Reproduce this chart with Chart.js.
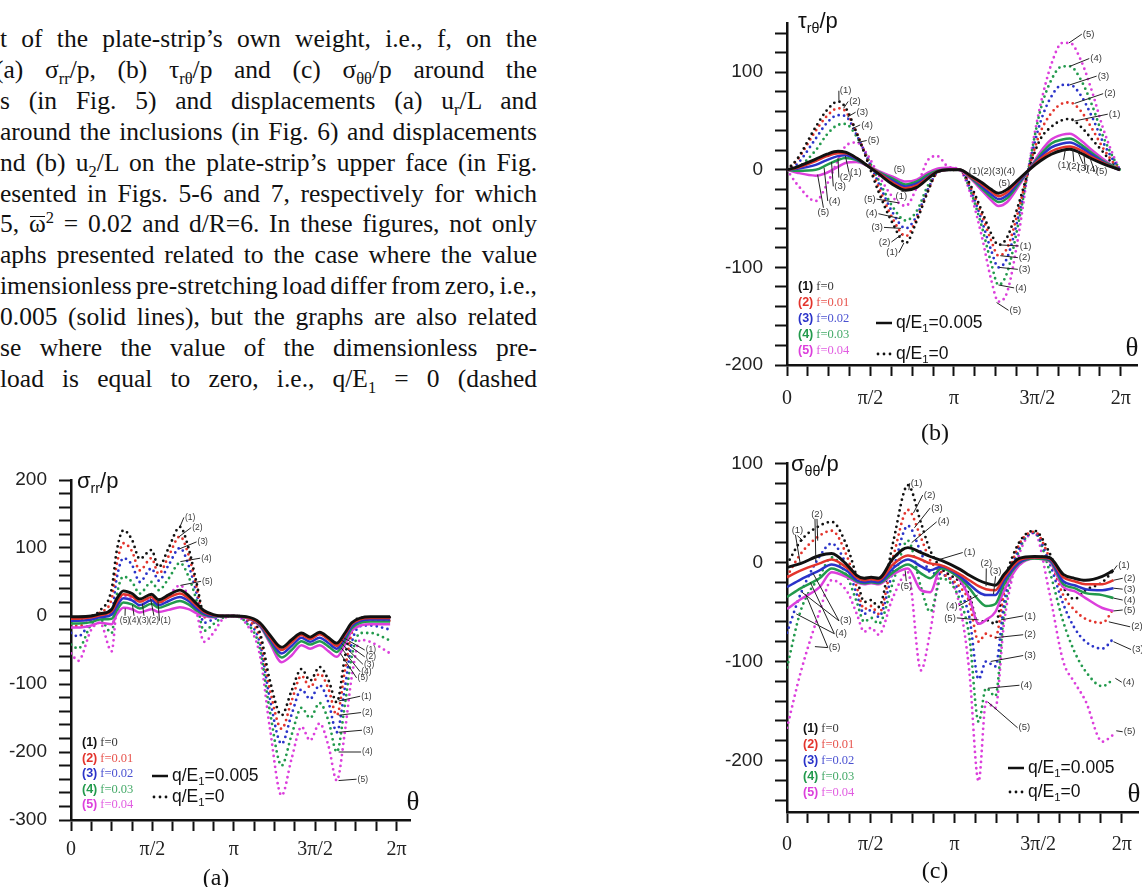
<!DOCTYPE html>
<html>
<head>
<meta charset="utf-8">
<script src="https://cdn.jsdelivr.net/npm/chart.js"></script>
<style>
  html, body { margin: 0; padding: 0; background: #fff; }
  body { width: 1142px; height: 887px; position: relative; overflow: hidden; }
  .para { position: absolute; left: 0; top: 24px; font: 25.5px "Liberation Serif", "Times New Roman", serif; line-height: 30.9px; color: #111; }
  .para div { white-space: nowrap; width: max-content; }
  .para sub, .para sup { font-size: 16.5px; line-height: 0; }
  .bar { position: relative; }
  .bar::before { content: ''; position: absolute; left: 1px; right: 1px; top: 0.27em; border-top: 1.5px solid #111; }
  .box { position: absolute; }
  .cap { position: absolute; font: 24px "Liberation Serif", serif; color: #111; transform: translate(-50%, -50%); }
</style>
</head>
<body>
<div class="para" id="para">
  <div>t of the plate-strip’s own weight, i.e., f, on the</div>
  <div style="margin-left:-5px">(a) σ<sub>rr</sub>/p, (b) τ<sub>rθ</sub>/p and (c) σ<sub>θθ</sub>/p around the</div>
  <div>s (in Fig. 5) and displacements (a) u<sub>r</sub>/L and</div>
  <div>around the inclusions (in Fig. 6) and displacements</div>
  <div>nd (b) u<sub>2</sub>/L on the plate-strip’s upper face (in Fig.</div>
  <div>esented in Figs. 5-6 and 7, respectively for which</div>
  <div>5, <span class="bar">ω</span><sup>2</sup> = 0.02 and d/R=6. In these figures, not only</div>
  <div>aphs presented related to the case where the value</div>
  <div>imensionless pre-stretching load differ from zero, i.e.,</div>
  <div>0.005 (solid lines), but the graphs are also related</div>
  <div>se where the value of the dimensionless pre-</div>
  <div>load is equal to zero, i.e., q/E<sub>1</sub> = 0 (dashed</div>
</div>

<canvas class="box" id="chartA" width="460" height="447" style="left:0;top:440px"></canvas>
<canvas class="box" id="chartB" width="582" height="450" style="left:560px;top:0"></canvas>
<canvas class="box" id="chartC" width="582" height="447" style="left:560px;top:440px"></canvas>

<div class="cap" style="left:216px;top:877px">(a)</div>
<div class="cap" style="left:935px;top:432px">(b)</div>
<div class="cap" style="left:935px;top:870px">(c)</div>

<script>
// --- data: angles in degrees ---
const X_LABEL_AT = [0, 90, 180, 270, 360];
const X_LABELS = ['0', 'π/2', 'π', '3π/2', '2π'];
const F_LABELS = ['f=0', 'f=0.01', 'f=0.02', 'f=0.03', 'f=0.04'];
const COLORS = ['#111111', '#e3342c', '#2a33c9', '#229a4c', '#dc3fdc'];

// (a) sigma_rr / p
const thetaA = [0, 8, 22.5, 32, 45, 50.5, 58, 67.5, 76, 89, 97, 108, 120.5, 130, 139, 147, 157.5, 167, 180, 194, 209, 220, 233, 244, 255, 264.5, 275, 285, 294, 303, 310.5, 320, 331, 353];
const aSolid1 = [-1, -1, 0, 3, 10, 25, 37, 33, 25, 32, 24, 31, 38, 30, 18, 8, 2, 0, 0, -1, -10, -28, -46, -35, -25, -31, -24, -32, -40, -25, -10, -3, -1, -1];
const aSolid2 = [-4, -4, -2, 1, 7, 20, 32, 29, 21, 28, 20, 27, 33, 26, 15, 6, 1, 0, 0, -2, -12, -31, -50, -39, -28, -34, -27, -35, -44, -28, -12, -5, -3, -3];
const aSolid3 = [-7, -7, -5, -2, 2, 14, 26, 23, 16, 23, 16, 22, 28, 22, 11, 4, 0, 0, 0, -2, -13, -34, -55, -44, -32, -38, -32, -40, -48, -32, -15, -7, -5, -5];
const aSolid4 = [-11, -11, -9, -5, -4, 8, 20, 17, 11, 18, 12, 17, 22, 17, 8, 2, -1, 0, 0, -2, -14, -37, -61, -50, -37, -42, -37, -45, -53, -36, -18, -10, -8, -8];
const aSolid5 = [-17, -17, -14, -10, -12, 2, 12, 10, 5, 10, 6, 9, 13, 10, 4, 0, -2, 0, 0, -3, -15, -40, -68, -58, -43, -48, -43, -52, -60, -42, -22, -14, -12, -12];
const aDot1 = [-3, -4, 0, 8, 40, 95, 126, 112, 84, 97, 72, 100, 131, 100, 48, 3, 0, 0, 0, -3, -25, -95, -146, -110, -78, -95, -75, -95, -127, -60, -15, -3, -2, -2];
const aDot2 = [-12, -15, -5, 5, 25, 75, 107, 95, 67, 85, 62, 88, 117, 90, 42, -2, -1, 0, 0, -5, -32, -108, -166, -125, -88, -105, -85, -108, -146, -80, -25, -8, -6, -7];
const aDot3 = [-25, -30, -8, 0, 5, 55, 85, 75, 50, 70, 52, 75, 100, 75, 33, -10, -5, -1, 0, -7, -40, -122, -188, -145, -108, -122, -102, -128, -171, -105, -40, -15, -14, -20];
const aDot4 = [-42, -48, -12, -5, -25, 30, 58, 50, 33, 50, 38, 55, 78, 58, 22, -22, -12, -3, 0, -10, -48, -140, -220, -175, -135, -150, -128, -155, -200, -130, -60, -25, -25, -36];
const aDot5 = [-55, -66, -20, -10, -52, 10, 30, 25, 15, 25, 18, 30, 45, 30, 5, -38, -25, -6, 0, -12, -58, -165, -264, -210, -163, -183, -158, -192, -242, -170, -90, -35, -38, -55];

// (b) tau_r_theta / p
const thetaB = [0, 11, 31, 43, 55, 63, 75, 87, 98.5, 114, 128, 140, 152, 162, 174, 186, 198, 210, 220, 228, 237.5, 249.5, 261, 273, 285, 297, 305, 317, 329, 341, 353, 359];
const bSolid1 = [0, 3, 11, 16, 19, 18, 12, 4, -4, -15, -21, -18, -9, -2, 0, 0, -6, -13, -20, -24, -20, -10, 0, 9, 16, 20, 21, 17, 11, 6, 2, 0];
const bSolid2 = [0, 2, 9, 14, 17, 17, 12, 4, -3, -13, -19, -16, -8, -2, 0, 0, -7, -15, -22, -27, -23, -11, 0, 11, 19, 23, 24, 20, 13, 7, 2, 0];
const bSolid3 = [0, 1, 5, 10, 14, 15, 11, 4, -3, -11, -17, -14, -7, -2, 0, 0, -7, -17, -25, -30, -26, -13, 0, 13, 23, 27, 28, 23, 15, 8, 2, 0];
const bSolid4 = [0, -1, 0, 5, 10, 12, 10, 4, -2, -9, -15, -12, -5, -1, 0, 0, -8, -19, -28, -33, -29, -15, 0, 15, 27, 31, 32, 26, 17, 9, 3, 0];
const bSolid5 = [0, -3, -6, -3, 3, 7, 8, 4, -1, -7, -12, -10, -3, 1, 2, 0, -9, -21, -31, -37, -33, -17, 0, 18, 31, 36, 37, 30, 20, 11, 3, 0];
const bDot1 = [0, 11, 44, 61, 70, 64, 38, 8, -22, -55, -75, -52, -22, -2, 0, 0, -16, -42, -65, -77, -69, -36, 1, 31, 44, 51, 52, 44, 31, 18, 4, 0];
const bDot2 = [0, 10, 40, 55, 63, 60, 38, 10, -17, -50, -68, -50, -22, -3, 0, 0, -18, -46, -72, -88, -80, -42, 2, 38, 58, 68, 69, 60, 42, 22, 6, 0];
const bDot3 = [0, 6, 32, 48, 56, 55, 36, 11, -13, -44, -60, -47, -20, -3, 0, 0, -20, -52, -82, -100, -90, -48, 3, 48, 75, 87, 87, 76, 54, 28, 8, 0];
const bDot4 = [0, 2, 20, 36, 46, 47, 34, 12, -10, -38, -52, -42, -16, -2, 0, 0, -22, -58, -95, -118, -105, -55, 4, 60, 92, 106, 106, 92, 66, 34, 10, 0];
const bDot5 = [0, -15, -32, -15, 10, 24, 28, 15, -5, -28, -37, -18, 10, 14, 3, 0, -25, -68, -112, -135, -125, -68, 5, 65, 108, 130, 130, 112, 80, 42, 12, 0];

// (c) sigma_theta_theta / p
const thetaC = [0, 15, 35, 48, 65, 75, 83, 90.5, 98.5, 114, 130, 144, 154, 166, 186, 196, 206, 214, 224, 233.5, 249.5, 266, 282, 297, 309, 321, 339, 351];
const cSolid1 = [-5, -1, 7, 9, -3, -13, -16, -15, -16, 4, 15, 10, 6, 2, -7, -13, -18, -21, -23, -12, 4, 6, 5, -12, -16, -18, -14, -8];
const cSolid2 = [-15, -8, -1, 3, -6, -15, -18, -17, -18, -2, 7, 3, -1, -3, -12, -18, -24, -27, -28, -15, 2, 5, 4, -15, -19, -22, -22, -18];
const cSolid3 = [-25, -17, -8, -2, -9, -18, -20, -19, -20, -6, 3, -4, -8, -4, -14, -22, -30, -33, -33, -18, 0, 5, 3, -19, -23, -27, -28, -26];
const cSolid4 = [-35, -26, -16, -6, -13, -19, -21, -20, -21, -10, -2, -11, -16, -6, -16, -26, -38, -44, -42, -22, -1, 4, 2, -22, -26, -31, -33, -36];
const cSolid5 = [-47, -37, -25, -10, -15, -20, -22, -21, -22, -12, -6, -28, -30, -4, -18, -36, -62, -58, -50, -28, -3, 4, 1, -25, -29, -36, -46, -49];
const cDot1 = [-2, 22, 37, 41, 15, -15, -40, -38, -45, 20, 78, 40, 12, -6, -20, -33, -62, -58, -62, -20, 20, 32, 10, -25, -37, -28, -20, -8];
const cDot2 = [-14, 9, 27, 32, 5, -25, -47, -44, -52, 5, 53, 25, 2, -10, -25, -40, -80, -72, -76, -30, 18, 31, 5, -33, -48, -57, -61, -47];
const cDot3 = [-71, -31, 6, 19, -5, -32, -52, -48, -55, -8, 37, 10, -10, -12, -30, -55, -118, -100, -105, -40, 15, 30, 0, -42, -66, -80, -87, -77];
const cDot4 = [-106, -48, -14, 5, -15, -40, -60, -56, -62, -20, 22, -25, -50, -16, -38, -75, -161, -127, -135, -50, 12, 30, -8, -60, -90, -110, -125, -118];
const cDot5 = [-167, -110, -50, -18, -30, -52, -70, -66, -73, -35, -10, -109, -70, -8, -45, -110, -221, -141, -147, -60, 8, 30, -30, -100, -121, -140, -181, -174];

// curve labels: [text, labelTheta, labelValue, pointTheta, pointValue]
const notesA = [
  ['(1)', 126, 145, 120.5, 131], ['(2)', 134, 130, 119, 116], ['(3)', 140, 109, 120.5, 99],
  ['(4)', 144, 85, 121, 80], ['(5)', 145, 51, 121, 45],
  ['(5)', 54, -7, 60, 11], ['(4)', 64, -7, 68, 16], ['(3)', 75, -7, 79, 18],
  ['(2)', 86, -7, 88, 26], ['(1)', 99, -7, 96, 25],
  ['(1)', 326, -50, 299, -30], ['(2)', 326, -60, 299, -35], ['(3)', 324, -71, 299, -40],
  ['(4)', 321, -82, 299, -47], ['(5)', 317, -91, 298, -55],
  ['(1)', 321, -118, 296, -125], ['(2)', 322, -142, 296, -146], ['(3)', 323, -168, 296, -171],
  ['(4)', 322, -200, 296, -200], ['(5)', 317, -240, 296, -242],
];
const notesB = [
  ['(1)', 57, 81, 56, 71], ['(2)', 67, 70, 61, 63], ['(3)', 75, 59, 65, 54],
  ['(4)', 80, 46, 70, 42], ['(5)', 87, 30, 76, 28],
  ['(1)', 68, -3, 63, 14], ['(2)', 57, -8, 55, 12], ['(3)', 51, -17, 48, 8],
  ['(4)', 45, -32, 40, 2], ['(5)', 33, -44, 33, -5],
  ['(5)', 115, 0, null, null], ['(1)', 117, -27, 126, -22],
  ['(5)', 83, -30, 121, -34], ['(4)', 85, -45, 122, -50], ['(3)', 91, -59, 123, -60],
  ['(2)', 99, -74, 124, -66], ['(1)', 107, -85, 126, -75],
  ['(1)(2)(3)(4)', 196, -2, null, null], ['(5)', 228, -14, null, null],
  ['(1)', 251, -78, 230, -77], ['(2)', 250, -90, 230, -88], ['(3)', 250, -102, 229, -100],
  ['(4)', 246, -121, 228, -118], ['(5)', 240, -144, 226, -136],
  ['(5)', 319, 139, 304, 130], ['(4)', 327, 114, 305, 106], ['(3)', 335, 96, 305, 87],
  ['(2)', 342, 78, 310, 68], ['(1)', 347, 57, 310, 50],
  ['(1)', 292, 5, 300, 20], ['(2)', 303, 3, 308, 22], ['(3)', 313, 1, 313, 20],
  ['(4)', 323, 0, 320, 17], ['(5)', 333, -2, 326, 14],
];
const notesC = [
  ['(1)', 5, 32, 17, 22], ['', 8, 28, 14, 0], ['(2)', 26, 49, 33, 22], ['', 29, 44, 31, 1],
  ['(3)', 57, -59, 28, -11], ['', 57, -59, 16, -30], ['(4)', 52, -72, 25, -20], ['', 52, -72, 10, -52],
  ['(5)', 45, -86, 20, -32], ['', 45, -86, 30, -85],
  ['(1)', 133, 80, 131, 73], ['(2)', 147, 68, 136, 50], ['(3)', 155, 55, 137, 35], ['(4)', 162, 41, 134, 20],
  ['(5)', 122, -24, 127, -8],
  ['(1)', 190, 10, 164, 3], ['(2)', 208, -1, 214, -24], ['(3)', 218, -9, 222, -32],
  ['(4)', 171, -44, 205, -33], ['(5)', 169, -56, 206, -58],
  ['(1)', 255, -54, 230, -58], ['(2)', 255, -73, 224, -76], ['(3)', 255, -94, 219, -100],
  ['(4)', 251, -124, 216, -127], ['(5)', 249, -167, 216, -141],
  ['(1)', 356, -3, 351, -8], ['(2)', 362, -16, 351, -18], ['(3)', 362, -27, 351, -26],
  ['(4)', 362, -38, 351, -36], ['(5)', 362, -48, 351, -49],
  ['(2)', 370, -65, 346, -60], ['(3)', 371, -88, 351, -80], ['(4)', 361, -121, 353, -117], ['(5)', 362, -171, 354, -170],
];

const SANS = '"Liberation Sans", Arial, sans-serif';
const SERIF = '"Liberation Serif", "Times New Roman", serif';

// justify each text line to the column width
const PARA_W = 537;
document.querySelectorAll('#para div').forEach((line) => {
  const spaces = (line.textContent.match(/ /g) || []).length;
  const shift = parseFloat(line.style.marginLeft || 0);
  const natural = line.getBoundingClientRect().width;
  if (spaces) line.style.wordSpacing = ((PARA_W - shift - natural) / spaces) + 'px';
});

function drawParts(ctx, parts, x, y, size, family) {
  let cx = x;
  parts.forEach(([t, kind]) => {
    const s = kind === 'n' ? size : size * 0.65;
    const dy = kind === 'sub' ? size * 0.32 : 0;
    ctx.font = s + 'px ' + family;
    ctx.fillText(t, cx, y + dy);
    cx += ctx.measureText(t).width;
  });
  return cx;
}

const figureExtras = {
  id: 'figureExtras',
  afterDatasetsDraw(chart, args, o) {
    const ctx = chart.ctx;
    const xs = chart.scales.x;
    const ys = chart.scales.y;
    ctx.save();
    ctx.textBaseline = 'middle';
    ctx.textAlign = 'left';
    ctx.fillStyle = '#111';
    drawParts(ctx, o.title, o.titleX, o.titleY, 22, SANS);

    ctx.font = '27px ' + SERIF;
    ctx.textAlign = 'center';
    ctx.fillText('θ', o.thetaX, o.thetaY);
    ctx.textAlign = 'left';

    // f legend
    F_LABELS.forEach((lab, i) => {
      const y = o.legY + i * o.legDy;
      ctx.fillStyle = COLORS[i];
      ctx.font = 'bold 12.5px ' + SANS;
      ctx.fillText('(' + (i + 1) + ')', o.legX, y);
      const w = ctx.measureText('(' + (i + 1) + ')').width;
      ctx.globalAlpha = 0.85;
      ctx.font = '12.5px ' + SERIF;
      ctx.fillText(lab, o.legX + w + 3, y);
      ctx.globalAlpha = 1;
    });

    // line-style legend
    ctx.fillStyle = '#111';
    ctx.strokeStyle = '#111';
    ctx.lineWidth = 2.5;
    ctx.beginPath();
    ctx.moveTo(o.lineX, o.lineY1);
    ctx.lineTo(o.lineX + 16, o.lineY1);
    ctx.stroke();
    [0, 6, 12].forEach((d) => {
      ctx.beginPath();
      ctx.arc(o.lineX + 2 + d, o.lineY2, 1.4, 0, Math.PI * 2);
      ctx.fill();
    });
    drawParts(ctx, [['q/E', 'n'], ['1', 'sub'], ['=0.005', 'n']], o.lineX + 20, o.lineY1, 17.5, SANS);
    drawParts(ctx, [['q/E', 'n'], ['1', 'sub'], ['=0', 'n']], o.lineX + 20, o.lineY2, 17.5, SANS);

    // curve labels with leader lines
    ctx.font = o.noteSize + 'px ' + SANS;
    ctx.lineWidth = 1;
    ctx.strokeStyle = '#222';
    o.notes.forEach(([txt, lt, lv, pt, pv]) => {
      const x = xs.getPixelForValue(lt);
      const y = ys.getPixelForValue(lv);
      ctx.fillStyle = '#3a3a3a';
      ctx.fillText(txt, x, y);
      if (pt === null) return;
      const w = ctx.measureText(txt).width;
      const px = xs.getPixelForValue(pt);
      const py = ys.getPixelForValue(pv);
      let ax = x + w / 2;
      let ay = y;
      if (px < x) ax = x - 1;
      else if (px > x + w) ax = x + w + 1;
      else ay = py < y ? y - 5 : y + 5;
      ctx.beginPath();
      ctx.moveTo(ax, ay);
      ctx.lineTo(px, py);
      ctx.stroke();
    });
    ctx.restore();
  },
};

function series(theta, vals) {
  return theta.map((t, i) => ({ x: t, y: vals[i] }));
}

function buildChart(id, theta, solids, dots, cfg) {
  const datasets = [];
  solids.forEach((vals, i) => datasets.push({
    data: series(theta, vals),
    borderColor: COLORS[i],
    borderWidth: i === 0 ? 2.9 : 2.5,
    pointRadius: 0,
    cubicInterpolationMode: 'monotone',
  }));
  dots.forEach((vals, i) => datasets.push({
    data: series(theta, vals),
    borderColor: COLORS[i],
    borderWidth: 2.8,
    borderDash: [0, 5.5],
    borderCapStyle: 'round',
    pointRadius: 0,
    cubicInterpolationMode: 'monotone',
  }));

  const xTicks = [];
  for (let v = 0; v <= 360; v += 22.5) xTicks.push(v);
  const yTicks = [];
  for (let v = cfg.yFirst; v <= cfg.yMax; v += 20) yTicks.push(v);

  return new Chart(document.getElementById(id), {
    type: 'line',
    data: { datasets },
    plugins: [figureExtras],
    options: {
      responsive: false,
      animation: false,
      events: [],
      devicePixelRatio: 1,
      layout: { padding: cfg.padding },
      plugins: {
        legend: { display: false },
        tooltip: { enabled: false },
        figureExtras: cfg.extras,
      },
      scales: {
        x: {
          type: 'linear',
          min: 0,
          max: cfg.xMax,
          afterBuildTicks: (s) => { s.ticks = xTicks.map((v) => ({ value: v })); },
          afterFit: (s) => { s.height = cfg.xHeight; },
          grid: { drawOnChartArea: false, tickLength: 11, tickColor: '#111', tickWidth: 2 },
          border: { color: '#111', width: 2.5 },
          ticks: {
            autoSkip: false,
            maxRotation: 0,
            padding: cfg.xPad,
            color: '#222',
            font: { family: SERIF, size: 20 },
            callback: (v) => {
              const i = X_LABEL_AT.indexOf(v);
              return i >= 0 ? X_LABELS[i] : '';
            },
          },
        },
        y: {
          min: cfg.yMin,
          max: cfg.yMax,
          afterBuildTicks: (s) => { s.ticks = yTicks.map((v) => ({ value: v })); },
          afterFit: (s) => { s.width = cfg.yWidth; },
          grid: { drawOnChartArea: false, tickLength: 12, tickColor: '#111', tickWidth: 2 },
          border: { color: '#111', width: 2.5 },
          ticks: {
            autoSkip: false,
            padding: 12,
            color: '#222',
            font: { family: SANS, size: 19 },
            callback: (v) => (v % 100 === 0 ? String(v) : ''),
          },
        },
      },
    },
  });
}

buildChart('chartA', thetaA,
  [aSolid1, aSolid2, aSolid3, aSolid4, aSolid5],
  [aDot1, aDot2, aDot3, aDot4, aDot5], {
    xMax: 375, yMin: -300, yMax: 200, yFirst: -300,
    yWidth: 71, xHeight: 45, xPad: 7,
    padding: { left: 0, top: 40, right: 50, bottom: 22 },
    extras: {
      title: [['σ', 'n'], ['rr', 'sub'], ['/p', 'n']], titleX: 77, titleY: 42,
      thetaX: 413, thetaY: 363,
      legX: 82, legY: 303, legDy: 15.5,
      lineX: 152, lineY1: 336, lineY2: 357,
      noteSize: 8.5, notes: notesA,
    },
  });

buildChart('chartB', thetaB,
  [bSolid1, bSolid2, bSolid3, bSolid4, bSolid5],
  [bDot1, bDot2, bDot3, bDot4, bDot5], {
    xMax: 378, yMin: -200, yMax: 150, yFirst: -200,
    yWidth: 227, xHeight: 60, xPad: 11,
    padding: { left: 0, top: 14, right: 2, bottom: 25 },
    extras: {
      title: [['τ', 'n'], ['rθ', 'sub'], ['/p', 'n']], titleX: 238, titleY: 22,
      thetaX: 572, thetaY: 349,
      legX: 238, legY: 287, legDy: 16,
      lineX: 316, lineY1: 323, lineY2: 354,
      noteSize: 9.5, notes: notesB,
    },
  });

buildChart('chartC', thetaC,
  [cSolid1, cSolid2, cSolid3, cSolid4, cSolid5],
  [cDot1, cDot2, cDot3, cDot4, cDot5], {
    xMax: 378, yMin: -252, yMax: 100, yFirst: -240,
    yWidth: 227, xHeight: 50, xPad: 10,
    padding: { left: 0, top: 18, right: 2, bottom: 25 },
    extras: {
      title: [['σ', 'n'], ['θθ', 'sub'], ['/p', 'n']], titleX: 231, titleY: 25,
      thetaX: 574, thetaY: 355,
      legX: 243, legY: 289, legDy: 16,
      lineX: 448, lineY1: 328, lineY2: 352,
      noteSize: 9.5, notes: notesC,
    },
  });
</script>
</body>
</html>
